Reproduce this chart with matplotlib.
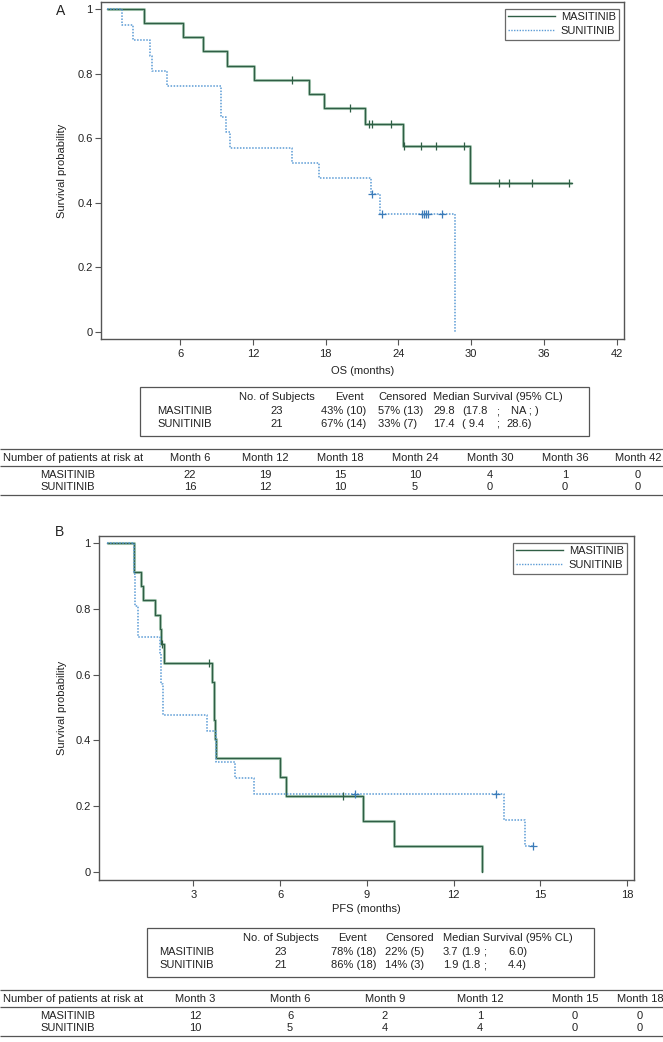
import numpy as np
import matplotlib
matplotlib.use('Agg')
import matplotlib.pyplot as plt
from matplotlib.lines import Line2D
from matplotlib.patches import Rectangle

plt.rcParams['font.family'] = ['Liberation Sans', 'DejaVu Sans']

# ---------------- data ----------------
groups = ['MASITINIB', 'SUNITINIB']

# Panel A: overall survival (step times and survival after each step)
os_mas_t = [0, 3.0, 6.2, 7.9, 9.9, 12.1, 16.6, 17.9, 21.2, 24.4, 29.9, 38.3]
os_mas_s = [1.0, 0.957, 0.913, 0.870, 0.826, 0.781, 0.737, 0.695, 0.644, 0.578, 0.462, 0.462]
os_mas_cens = [15.2, 20.0, 21.6, 21.8, 23.4, 24.45, 25.9, 27.1, 29.4, 32.3, 33.1, 35.0, 38.1]

os_sun_t = [0, 1.2, 2.1, 3.55, 3.65, 4.9, 9.4, 9.75, 10.1, 15.2, 17.45, 21.7, 22.5, 28.65]
os_sun_s = [1.0, 0.952, 0.905, 0.857, 0.810, 0.762, 0.667, 0.619, 0.571, 0.524, 0.476, 0.429, 0.367, 0.0]
os_sun_cens = [21.83, 22.65, 25.95, 26.1, 26.25, 26.4, 27.55]

# Panel B: progression-free survival
pfs_mas_t = [0, 0.95, 1.19, 1.25, 1.66, 1.84, 1.89, 1.99, 3.64, 3.71, 3.76, 3.80, 6.00, 6.19, 8.88, 9.93, 12.98]
pfs_mas_s = [1.0, 0.913, 0.870, 0.826, 0.783, 0.739, 0.693, 0.636, 0.578, 0.462, 0.405, 0.347, 0.289, 0.231, 0.154, 0.077, 0.0]
pfs_mas_cens = [1.92, 3.54, 8.17]

pfs_sun_t = [0, 0.95, 1.0, 1.1, 1.84, 1.90, 1.95, 3.47, 3.77, 4.46, 5.10, 13.73, 14.48, 14.76]
pfs_sun_s = [1.0, 0.905, 0.810, 0.714, 0.667, 0.571, 0.476, 0.429, 0.333, 0.286, 0.238, 0.159, 0.079, 0.079]
pfs_sun_cens = [8.6, 13.46, 14.76]

# summary tables
sum_header = ['No. of Subjects', 'Event', 'Censored', 'Median Survival (95% CL)']
os_n = ['23', '21']
os_event = ['43% (10)', '67% (14)']
os_cens_txt = ['57% (13)', '33% (7)']
os_med = ['29.8', '17.4']
os_lo = ['(17.8', '( 9.4']
os_hi = ['NA ; )', '28.6)']

pfs_n = ['23', '21']
pfs_event = ['78% (18)', '86% (18)']
pfs_cens_txt = ['22% (5)', '14% (3)']
pfs_med = ['3.7', '1.9']
pfs_lo = ['(1.9', '(1.8']
pfs_hi = ['6.0)', '4.4)']

# numbers at risk
risk_title = 'Number of patients at risk at'
os_risk_months = ['Month 6', 'Month 12', 'Month 18', 'Month 24', 'Month 30', 'Month 36', 'Month 42']
os_risk_mas = [22, 19, 15, 10, 4, 1, 0]
os_risk_sun = [16, 12, 10, 5, 0, 0, 0]
pfs_risk_months = ['Month 3', 'Month 6', 'Month 9', 'Month 12', 'Month 15', 'Month 18']
pfs_risk_mas = [12, 6, 2, 1, 0, 0]
pfs_risk_sun = [10, 5, 4, 4, 0, 0]

os_xticks = [6, 12, 18, 24, 30, 36, 42]
pfs_xticks = [3, 6, 9, 12, 15, 18]
yticks = [0, 0.2, 0.4, 0.6, 0.8, 1.0]
ytick_labels = ['0', '0.2', '0.4', '0.6', '0.8', '1']

# ---------------- figure ----------------
W, H = 663, 1042
fig = plt.figure(figsize=(W / 100, H / 100), dpi=100)

ov = fig.add_axes([0, 0, 1, 1])
ov.set_xlim(0, W)
ov.set_ylim(H, 0)
ov.axis('off')
ov.patch.set_visible(False)


def axes_px(l, t, r, b):
    return fig.add_axes([l / W, 1 - b / H, (r - l) / W, (b - t) / H])


GREEN = '#2f5e45'
GREEN_HALO = '#a9c9b5'
BLUE = '#5b9bd5'
BLUE_MARK = '#3b7bb8'
SPINE = '#555555'
TXT = '#222222'
FS = 8


def surv_at(t, s, c):
    i = np.searchsorted(np.asarray(t), c, side='right') - 1
    return s[max(i, 0)]


def draw_km(ax, t, s, cens, kind):
    if kind == 'mas':
        ax.step(t, s, where='post', color=GREEN_HALO, lw=2.2, solid_capstyle='butt', zorder=2)
        ax.step(t, s, where='post', color=GREEN, lw=0.9, zorder=3)
        ys = [surv_at(t, s, c) for c in cens]
        ax.plot(cens, ys, ls='none', marker='|', ms=6, mew=0.9, color=GREEN, zorder=4)
    else:
        ax.step(t, s, where='post', color=BLUE, lw=1.1, ls=(0, (1, 1)), zorder=3)
        ys = [surv_at(t, s, c) for c in cens]
        ax.plot(cens, ys, ls='none', marker='+', ms=6, mew=0.9, color=BLUE_MARK, zorder=4)


def style_axes(ax, xticks, xlim, ylim):
    ax.set_xlim(*xlim)
    ax.set_ylim(*ylim)
    ax.set_xticks(xticks)
    ax.set_xticklabels([str(v) for v in xticks])
    ax.set_yticks(yticks)
    ax.set_yticklabels(ytick_labels)
    for sp in ax.spines.values():
        sp.set_color(SPINE)
        sp.set_linewidth(1.0)
    ax.tick_params(axis='both', direction='out', length=4, width=0.8, color=SPINE,
                   labelsize=FS, labelcolor=TXT)
    ax.tick_params(axis='x', pad=3.5)
    ax.tick_params(axis='y', pad=2)
    leg_handles = [Line2D([], [], color=GREEN, lw=1.0),
                   Line2D([], [], color=BLUE, lw=1.0, ls=(0, (1, 1)))]
    return leg_handles


def add_legend(ax, right_px, top_px, ax_l, ax_t, ax_r, ax_b, handles):
    bx = (right_px - ax_l) / (ax_r - ax_l)
    by = 1 - (top_px - ax_t) / (ax_b - ax_t)
    leg = ax.legend(handles, groups, loc='upper right', bbox_to_anchor=(bx, by),
                    borderaxespad=0, fontsize=FS, frameon=True, fancybox=False,
                    handlelength=4.2, handletextpad=0.5, labelspacing=0.35,
                    borderpad=0.3)
    fr = leg.get_frame()
    fr.set_edgecolor('#444444')
    fr.set_linewidth(0.9)
    for t in leg.get_texts():
        t.set_color(TXT)


# Panel A
A_box = (101, 2, 624, 339)
axA = axes_px(*A_box)
draw_km(axA, os_mas_t, os_mas_s, os_mas_cens, 'mas')
draw_km(axA, os_sun_t, os_sun_s, os_sun_cens, 'sun')
hA = style_axes(axA, os_xticks, (-0.53, 42.6), (-0.022, 1.023))
add_legend(axA, 619, 9, *A_box, hA)

# Panel B
B_box = (99, 536, 634, 880)
axB = axes_px(*B_box)
draw_km(axB, pfs_mas_t, pfs_mas_s, pfs_mas_cens, 'mas')
draw_km(axB, pfs_sun_t, pfs_sun_s, pfs_sun_cens, 'sun')
hB = style_axes(axB, pfs_xticks, (-0.26, 18.24), (-0.025, 1.022))
add_legend(axB, 627, 543, *B_box, hB)

# panel letters, axis labels
ov.text(61, 11, 'A', fontsize=10, ha='center', va='center', color=TXT)
ov.text(60, 532, 'B', fontsize=10, ha='center', va='center', color=TXT)
ov.text(62, (A_box[1] + A_box[3]) / 2, 'Survival probability', rotation=90, fontsize=FS,
        ha='center', va='center', color=TXT)
ov.text(62, (B_box[1] + B_box[3]) / 2, 'Survival probability', rotation=90, fontsize=FS,
        ha='center', va='center', color=TXT)
ov.text((A_box[0] + A_box[2]) / 2, 371, 'OS (months)', fontsize=FS, ha='center', va='center', color=TXT)
ov.text((B_box[0] + B_box[2]) / 2, 909, 'PFS (months)', fontsize=FS, ha='center', va='center', color=TXT)


def summary_table(y0, x0, x1, cols, n, ev, ce, med, lo, hi, hi_x):
    top, hdr, r1, r2, bot = y0, y0 + 10, y0 + 24, y0 + 37, y0 + 49
    ov.add_patch(Rectangle((x0, top), x1 - x0, bot - top, fill=False, ec='#555555', lw=0.9))
    c_name, c_n, c_ev_h, c_ev, c_ce, c_med, c_lo, c_semi = cols
    ov.text(c_n, hdr, sum_header[0], fontsize=FS, ha='center', va='center', color=TXT)
    ov.text(c_ev_h, hdr, sum_header[1], fontsize=FS, ha='center', va='center', color=TXT)
    ov.text(c_ce, hdr, sum_header[2], fontsize=FS, ha='left', va='center', color=TXT)
    ov.text(c_med, hdr, sum_header[3], fontsize=FS, ha='left', va='center', color=TXT)
    for i, yy in enumerate([r1, r2]):
        ov.text(c_name, yy, groups[i], fontsize=FS, ha='left', va='center', color=TXT)
        ov.text(c_n, yy, n[i], fontsize=FS, ha='center', va='center', color=TXT)
        ov.text(c_ev, yy, ev[i], fontsize=FS, ha='left', va='center', color=TXT)
        ov.text(c_ce, yy, ce[i], fontsize=FS, ha='left', va='center', color=TXT)
        ov.text(c_med, yy, med[i], fontsize=FS, ha='left', va='center', color=TXT)
        ov.text(c_lo, yy, lo[i], fontsize=FS, ha='left', va='center', color=TXT)
        ov.text(c_semi, yy, ';', fontsize=FS, ha='center', va='center', color=TXT)
        ov.text(hi_x[i], yy, hi[i], fontsize=FS, ha='left', va='center', color=TXT)


summary_table(387, 140, 589, (157, 277, 349, 321, 378, 433, 462, 498),
              os_n, os_event, os_cens_txt, os_med, os_lo, os_hi, (511, 506))
summary_table(928, 147, 594, (159, 281, 352, 331, 385, 443, 461, 485),
              pfs_n, pfs_event, pfs_cens_txt, pfs_med, pfs_lo, pfs_hi, (508, 508))


def risk_table(y0, months, mas, sun, centers):
    top, hdr, mid, r1, r2, bot = y0, y0 + 9, y0 + 17, y0 + 26, y0 + 38, y0 + 46
    for yy in (top, mid, bot):
        ov.plot([0, W], [yy, yy], color='#555555', lw=0.9, solid_capstyle='butt')
    ov.text(3, hdr, risk_title, fontsize=FS, ha='left', va='center', color=TXT)
    ov.text(68, r1, groups[0], fontsize=FS, ha='center', va='center', color=TXT)
    ov.text(68, r2, groups[1], fontsize=FS, ha='center', va='center', color=TXT)
    for j, cx in enumerate(centers):
        ov.text(cx, hdr, months[j], fontsize=FS, ha='center', va='center', color=TXT)
        ov.text(cx, r1, str(mas[j]), fontsize=FS, ha='center', va='center', color=TXT)
        ov.text(cx, r2, str(sun[j]), fontsize=FS, ha='center', va='center', color=TXT)


risk_table(449, os_risk_months, os_risk_mas, os_risk_sun, [190, 265, 340, 415, 490, 565, 638])
risk_table(990, pfs_risk_months, pfs_risk_mas, pfs_risk_sun, [195, 290, 385, 480, 575, 640])

fig.savefig('out.png', dpi=100)
